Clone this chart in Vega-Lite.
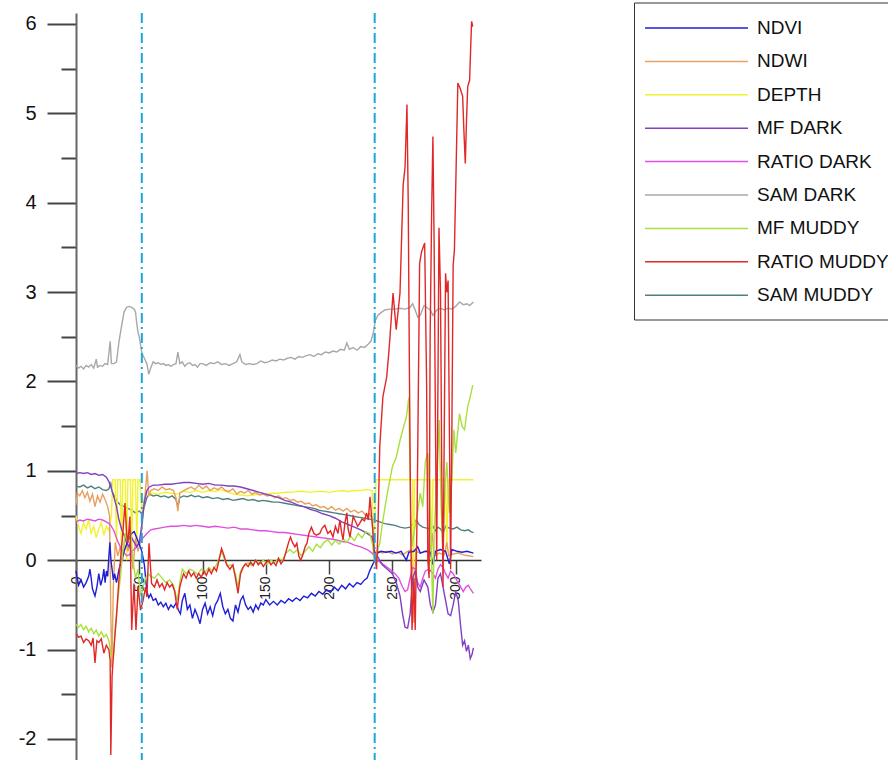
{
"$schema": "https://vega.github.io/schema/vega-lite/v6.json",
"width": 405, "height": 747,
"autosize": {"type": "none"},
"padding": {"left": 76, "top": 13, "right": 407, "bottom": 0},
"background": "white",
"config": {"view": {"stroke": null}, "font": "Liberation Sans"},
"datasets": {
"SAMD": [[0,2.18],[2,2.15],[4,2.17],[6,2.14],[8,2.18],[10,2.16],[12,2.19],[14,2.15],[16,2.25],[17,2.16],[19,2.18],[21,2.17],[23,2.2],[25,2.19],[27,2.45],[28,2.2],[30,2.2],[32,2.22],[34,2.45],[36,2.62],[38,2.78],[40,2.83],[42,2.84],[44,2.83],[46,2.81],[47,2.78],[48,2.65],[49,2.55],[50,2.5],[52,2.32],[54,2.26],[56,2.2],[57.5,2.08],[59,2.15],[61,2.22],[63,2.2],[65,2.21],[67,2.19],[69,2.2],[71,2.18],[73,2.19],[75,2.17],[77,2.19],[79,2.2],[80.5,2.33],[82,2.2],[84,2.22],[86,2.17],[88,2.2],[90,2.21],[92,2.18],[94,2.19],[96,2.16],[98,2.2],[100,2.2],[103,2.18],[106,2.21],[109,2.2],[112,2.22],[115,2.19],[118,2.2],[121,2.18],[124,2.2],[127,2.22],[129.5,2.3],[131,2.22],[134,2.19],[137,2.2],[140,2.19],[143,2.2],[146,2.23],[149,2.21],[152,2.22],[155,2.24],[158,2.23],[161,2.25],[164,2.24],[167,2.26],[170,2.27],[173,2.25],[176,2.28],[179,2.27],[182,2.29],[185,2.3],[188,2.28],[191,2.31],[194,2.3],[197,2.33],[200,2.32],[203,2.34],[206,2.33],[209,2.36],[212,2.35],[214,2.43],[216,2.36],[219,2.38],[222,2.35],[225,2.39],[228,2.38],[231,2.42],[233,2.45],[235,2.55],[236.5,2.68],[238.5,2.74],[241,2.77],[244,2.8],[248,2.81],[252,2.81],[256,2.82],[260,2.81],[264,2.83],[266,2.87],[268,2.8],[270,2.72],[272,2.74],[275,2.85],[278,2.82],[280,2.8],[282,2.74],[285,2.8],[288,2.82],[291,2.8],[294,2.82],[297,2.81],[300,2.84],[303,2.89],[306,2.86],[309,2.87],[311,2.85],[314,2.89]],
"SAMM": [[0,0.83],[3,0.82],[6,0.84],[9,0.81],[12,0.83],[15,0.8],[18,0.82],[21,0.79],[24,0.78],[26,0.8],[27.5,0.86],[29,0.75],[31,0.7],[33,0.65],[35,0.62],[38,0.6],[41,0.58],[44,0.56],[47,0.53],[50,0.55],[52,0.52],[54,0.6],[56,0.7],[58,0.74],[61,0.72],[64,0.73],[67,0.71],[70,0.72],[73,0.7],[76,0.72],[79,0.68],[80.5,0.6],[82,0.7],[85,0.72],[88,0.71],[91,0.73],[94,0.71],[97,0.72],[100,0.7],[104,0.71],[108,0.69],[112,0.7],[116,0.68],[120,0.69],[124,0.67],[128,0.68],[132,0.69],[136,0.67],[140,0.68],[144,0.66],[148,0.67],[152,0.66],[156,0.65],[160,0.65],[164,0.64],[168,0.63],[172,0.62],[176,0.61],[180,0.6],[184,0.59],[188,0.58],[192,0.56],[196,0.55],[200,0.54],[204,0.53],[208,0.52],[212,0.51],[216,0.5],[220,0.49],[224,0.48],[228,0.47],[232,0.46],[236,0.45],[240,0.43],[244,0.41],[248,0.4],[252,0.39],[256,0.37],[260,0.36],[264,0.37],[267,0.42],[269,0.45],[271,0.4],[274,0.37],[277,0.36],[280,0.35],[282,0.38],[284,0.33],[286,0.37],[288,0.35],[290,0.3],[292,0.38],[295,0.36],[298,0.35],[301,0.37],[304,0.34],[307,0.33],[310,0.34],[312,0.32],[314,0.31]],
"DEPTH": [[0,0.5],[2,0.38],[4,0.3],[6,0.42],[8,0.35],[10,0.45],[12,0.3],[14,0.38],[16,0.25],[18,0.35],[20,0.42],[22,0.28],[24,0.38],[26,0.33],[28,0.5],[29,0.9],[31,0.9],[32,0.2],[33,0.9],[35,0.9],[36,0.05],[37,0.9],[39,0.9],[40,0.0],[41,0.9],[43,0.9],[44,0.1],[45,0.9],[47,0.9],[48,0.15],[49,0.9],[50.5,0.9],[52,0.55],[54,0.7],[56,0.74],[60,0.75],[65,0.74],[70,0.76],[75,0.75],[80,0.74],[85,0.77],[90,0.76],[95,0.78],[100,0.76],[105,0.78],[110,0.77],[115,0.79],[120,0.76],[125,0.74],[130,0.73],[135,0.72],[140,0.73],[145,0.74],[150,0.74],[155,0.75],[160,0.75],[165,0.76],[170,0.76],[175,0.77],[180,0.77],[185,0.76],[190,0.77],[195,0.77],[200,0.76],[205,0.77],[210,0.78],[215,0.77],[220,0.78],[225,0.78],[230,0.79],[234,0.78],[235.5,0.0],[237,0.9],[240,0.9],[266,0.9],[266.5,-0.6],[267.5,0.9],[280,0.9],[281,-0.1],[282,0.9],[292,0.9],[293,0.1],[294,0.9],[314,0.9]],
"NDWI": [[0,0.62],[1,0.75],[3,0.72],[5,0.78],[7,0.7],[9,0.76],[11,0.66],[13,0.74],[15,0.6],[17,0.72],[19,0.65],[21,0.74],[23,0.68],[25,0.6],[26.5,0.5],[27.5,-0.6],[28.3,-1.2],[29.5,-0.3],[31,0.2],[33,0.05],[35,0.15],[37,0.0],[39,0.3],[41,0.1],[43,0.2],[45,-0.1],[47,0.25],[49,0.1],[51,0.2],[53,0.5],[55,0.8],[56.2,1.0],[57.5,0.72],[59,0.78],[62,0.8],[65,0.78],[68,0.82],[71,0.79],[74,0.8],[77,0.78],[79,0.7],[80.5,0.55],[82,0.75],[85,0.78],[88,0.8],[91,0.82],[94,0.79],[97,0.84],[100,0.8],[103,0.83],[106,0.78],[109,0.81],[112,0.79],[115,0.82],[118,0.78],[121,0.77],[124,0.8],[127,0.74],[130,0.77],[133,0.75],[136,0.78],[139,0.74],[142,0.76],[145,0.73],[148,0.74],[151,0.72],[154,0.73],[157,0.7],[160,0.72],[163,0.69],[166,0.7],[169,0.67],[172,0.68],[175,0.65],[178,0.66],[181,0.63],[184,0.64],[187,0.61],[190,0.62],[193,0.59],[196,0.6],[199,0.57],[202,0.6],[205,0.56],[208,0.58],[211,0.55],[214,0.58],[217,0.54],[220,0.56],[223,0.53],[226,0.55],[229,0.5],[232,0.52],[234,0.45],[235.5,0.1],[237,0.0],[239,0.1],[242,0.08],[246,0.1],[250,0.07],[254,0.09],[258,0.06],[262,0.1],[265,0.12],[267,-0.7],[268.5,0.1],[272,0.08],[276,0.1],[280,0.12],[281.5,0.3],[283,0.05],[287,0.08],[291,0.06],[293,0.2],[294.5,0.05],[298,0.07],[302,0.08],[306,0.06],[310,0.05],[314,0.04]],
"RATD": [[0,0.43],[3,0.45],[6,0.44],[9,0.46],[12,0.45],[15,0.44],[18,0.46],[21,0.45],[24,0.43],[27,0.4],[30,0.33],[32,0.25],[34,0.18],[36,0.12],[38,0.08],[40,0.05],[42,0.06],[44,0.1],[46,0.12],[48,0.15],[50,0.2],[53,0.25],[56,0.3],[59,0.34],[62,0.35],[66,0.36],[70,0.37],[75,0.38],[80,0.38],[85,0.39],[90,0.38],[95,0.39],[100,0.38],[105,0.37],[110,0.38],[115,0.37],[120,0.36],[125,0.37],[130,0.35],[135,0.35],[140,0.34],[145,0.33],[150,0.33],[155,0.32],[160,0.31],[165,0.31],[170,0.3],[175,0.29],[180,0.28],[185,0.27],[190,0.26],[195,0.25],[200,0.24],[205,0.23],[210,0.21],[215,0.2],[220,0.17],[225,0.15],[230,0.12],[234,0.08],[236,0.04],[238,0.0],[241,-0.03],[244,-0.06],[248,-0.1],[252,-0.15],[255,-0.2],[258,-0.3],[260,-0.35],[262,-0.33],[264,-0.2],[266,-0.08],[268,-0.1],[270,-0.25],[272,-0.3],[274,-0.2],[276,-0.12],[279,-0.1],[282,-0.15],[284,-0.2],[286,-0.1],[288,-0.05],[290,-0.08],[292,-0.15],[294,-0.2],[296,-0.12],[298,-0.15],[300,-0.2],[302,-0.25],[304,-0.3],[306,-0.35],[308,-0.3],[310,-0.28],[312,-0.33],[314,-0.37]],
"MFD": [[0,0.97],[3,0.98],[6,0.97],[9,0.98],[12,0.96],[15,0.97],[18,0.95],[21,0.96],[24,0.93],[26,0.88],[28,0.8],[30,0.7],[32,0.6],[34,0.45],[36,0.35],[38,0.28],[40,0.2],[42,0.15],[44,0.25],[46,0.2],[48,0.15],[50,0.2],[52,0.4],[54,0.65],[56,0.78],[58,0.82],[61,0.84],[65,0.84],[70,0.85],[75,0.85],[80,0.86],[85,0.87],[90,0.87],[95,0.86],[100,0.85],[105,0.86],[110,0.84],[115,0.84],[120,0.83],[125,0.83],[130,0.82],[135,0.8],[140,0.78],[145,0.76],[150,0.74],[155,0.72],[160,0.7],[165,0.67],[170,0.65],[175,0.62],[180,0.6],[185,0.57],[190,0.55],[195,0.52],[200,0.5],[205,0.47],[210,0.43],[215,0.4],[220,0.37],[225,0.34],[230,0.3],[234,0.26],[236,0.1],[238,0.05],[242,-0.05],[246,-0.1],[250,-0.15],[253,-0.25],[256,-0.4],[258,-0.6],[260,-0.75],[262,-0.76],[264,-0.6],[266,-0.2],[268,-0.12],[270,-0.3],[272,-0.35],[275,-0.22],[278,-0.3],[280,-0.5],[282,-0.58],[284,-0.5],[286,-0.2],[288,-0.15],[290,-0.3],[292,-0.45],[294,-0.6],[296,-0.62],[298,-0.5],[300,-0.35],[302,-0.45],[304,-0.75],[305.5,-0.95],[307,-0.9],[308.5,-1.02],[310,-0.95],[311.5,-1.1],[313,-1.05],[314,-0.98]],
"NDVI": [[0,-0.12],[1,-0.2],[2,-0.28],[4,-0.22],[6,-0.3],[8,-0.25],[10,-0.18],[11,-0.1],[12,-0.2],[13,-0.32],[15,-0.4],[16.5,-0.3],[18,-0.15],[19.5,-0.28],[21,-0.2],[22,-0.1],[23,-0.25],[24,-0.12],[25,-0.18],[26,0.05],[26.8,0.2],[27.6,0.0],[28.5,-0.1],[29.5,-0.22],[30.5,-0.15],[32,-0.25],[34,-0.1],[36,0.0],[38,0.1],[40,0.18],[42,0.25],[44,0.3],[46,0.32],[48,0.25],[50,0.18],[52,0.1],[54,-0.05],[56,-0.35],[57.5,-0.42],[59,-0.38],[61,-0.45],[63,-0.43],[65,-0.5],[67,-0.47],[69,-0.52],[71,-0.48],[73,-0.55],[75,-0.5],[77,-0.53],[79,-0.48],[81,-0.56],[82.5,-0.6],[84,-0.45],[86,-0.37],[88,-0.55],[90,-0.5],[92,-0.65],[94,-0.55],[96,-0.62],[98,-0.71],[100,-0.55],[102,-0.48],[104,-0.6],[106,-0.52],[108,-0.62],[110,-0.5],[112,-0.45],[114,-0.37],[116,-0.52],[118,-0.6],[120,-0.55],[122,-0.65],[124,-0.68],[126,-0.5],[128,-0.58],[130,-0.45],[132,-0.4],[134,-0.5],[136,-0.55],[138,-0.52],[140,-0.58],[142,-0.5],[144,-0.55],[146,-0.48],[148,-0.5],[150,-0.44],[153,-0.5],[156,-0.46],[159,-0.5],[162,-0.45],[165,-0.48],[168,-0.43],[171,-0.46],[174,-0.42],[177,-0.45],[180,-0.4],[183,-0.42],[186,-0.37],[189,-0.4],[192,-0.35],[195,-0.38],[198,-0.33],[201,-0.36],[204,-0.3],[207,-0.34],[210,-0.28],[213,-0.32],[216,-0.26],[219,-0.3],[222,-0.25],[225,-0.27],[228,-0.22],[230,-0.2],[232,-0.12],[234,-0.06],[236,0.0],[238,0.08],[241,0.1],[245,0.09],[249,0.1],[253,0.08],[257,0.1],[261,0.0],[263,0.09],[267,0.1],[270,0.15],[272,0.08],[276,0.1],[280,0.09],[282,-0.05],[284,0.1],[288,0.12],[292,0.1],[295,-0.04],[297,0.12],[301,0.1],[305,0.09],[309,0.1],[314,0.08]],
"MFM": [[0,-0.72],[2,-0.75],[4,-0.72],[6,-0.78],[8,-0.74],[10,-0.8],[12,-0.76],[14,-0.82],[16,-0.78],[18,-0.85],[20,-0.8],[22,-0.86],[24,-0.83],[26,-0.9],[28,-1.08],[29.5,-1.1],[31,-0.75],[33,-0.45],[35,-0.2],[37,0.1],[39,0.3],[41,0.2],[43,0.35],[45,0.0],[47,-0.2],[49,-0.1],[51,-0.4],[53,-0.3],[55,-0.2],[57,-0.15],[59,-0.18],[62,-0.2],[65,-0.15],[68,-0.2],[71,-0.25],[74,-0.22],[77,-0.28],[80,-0.45],[82,-0.25],[84,-0.1],[87,-0.15],[90,-0.1],[93,-0.12],[96,-0.16],[99,-0.1],[102,-0.13],[105,-0.08],[108,-0.12],[111,-0.05],[113,0.02],[115,0.1],[117,0.02],[120,-0.06],[123,-0.05],[126,-0.15],[128,-0.3],[130,-0.12],[133,-0.05],[136,-0.03],[139,-0.06],[142,0.0],[145,-0.04],[148,0.0],[151,-0.05],[154,0.0],[157,-0.03],[160,0.02],[163,0.0],[166,0.08],[169,0.12],[172,0.08],[175,0.12],[178,0.05],[181,0.1],[184,0.15],[187,0.1],[190,0.18],[193,0.14],[196,0.2],[199,0.23],[202,0.17],[205,0.22],[208,0.18],[211,0.24],[214,0.2],[217,0.27],[220,0.22],[223,0.3],[226,0.25],[229,0.32],[232,0.3],[234,0.2],[236,0.0],[238,0.1],[240,0.19],[242,0.4],[245,0.67],[248,0.9],[250,1.05],[253,1.15],[256,1.34],[259,1.5],[261,1.6],[263,1.82],[264.5,0.5],[265.5,0.15],[267,0.3],[270,0.55],[272,0.75],[274,0.6],[276,1.1],[278,1.2],[280,0.5],[282,-0.6],[283,0.3],[285,0.9],[287,1.57],[288.5,0.6],[290,0.08],[291.5,0.8],[293,1.1],[295,0.53],[297,0.9],[298.5,1.46],[300,1.2],[303,1.64],[305,1.5],[307,1.46],[309.5,1.72],[311,1.8],[313.5,1.96]],
"RATM": [[0,-0.82],[2,-0.86],[4,-0.85],[6,-0.92],[8,-0.88],[10,-0.9],[12,-0.95],[13.5,-0.87],[15,-1.15],[16.5,-0.9],[18,-0.92],[20,-0.88],[22,-1.04],[24,-0.95],[26,-1.0],[27,-1.12],[27.5,-2.18],[28.5,-1.3],[29.5,-1.08],[31,-0.8],[32,-0.63],[33.5,-0.3],[34.7,-0.07],[36,0.15],[37,0.3],[38.7,0.64],[40,0.3],[41,0.19],[42.6,0.49],[44,-0.78],[45.8,-0.26],[47.4,-0.78],[49,-0.3],[51,-0.56],[53,-0.45],[55,-0.3],[56,-0.41],[57.7,0.19],[59.7,-0.26],[62,-0.3],[64,-0.22],[66,-0.3],[68,-0.26],[70,-0.33],[72,-0.25],[74,-0.3],[76,-0.27],[78,-0.35],[80,-0.55],[82,-0.3],[83.5,-0.22],[85,-0.15],[87,-0.2],[89,-0.12],[91,-0.18],[93,-0.14],[95,-0.2],[97,-0.15],[99,-0.19],[101,-0.12],[103,-0.17],[105,-0.1],[107,-0.15],[109,-0.08],[111,-0.12],[113,0.0],[115,0.13],[117,0.05],[119,-0.05],[121.6,-0.1],[124,-0.05],[126,-0.2],[128,-0.37],[130,-0.15],[132,-0.08],[134,-0.04],[136,-0.07],[138,-0.02],[140,-0.06],[142,0.0],[144,-0.05],[146,-0.02],[148,-0.07],[150,-0.03],[152,0.0],[154,-0.05],[156,-0.02],[158,-0.06],[160,0.02],[162,-0.04],[164,0.0],[166,0.1],[168,0.2],[169.5,0.26],[171,0.2],[173,0.15],[174.5,0.19],[176,0.05],[177.5,0.0],[179,0.05],[181,0.15],[182.5,0.19],[184,0.3],[186,0.37],[188,0.3],[190,0.28],[192.6,0.3],[194.5,0.36],[196.6,0.39],[199,0.3],[201,0.33],[203,0.26],[205,0.38],[207,0.3],[208.5,0.45],[210,0.3],[211,0.23],[212.5,0.42],[214,0.53],[215,0.35],[216.5,0.26],[218,0.4],[219,0.49],[221,0.43],[222.5,0.38],[224,0.41],[226,0.46],[228,0.44],[229.5,0.53],[231,0.45],[232.3,0.71],[233.5,0.5],[234.5,0.34],[235.5,0.1],[236.5,0.0],[237.5,-0.1],[238.5,0.3],[240,1.27],[242.5,1.83],[245.5,2.05],[247,2.3],[248,2.48],[250.5,2.99],[253,2.58],[256,2.99],[258.5,4.2],[260,4.4],[261.5,5.1],[262.5,4.0],[263.5,2.0],[264.5,0.3],[265.5,-0.78],[267,-0.2],[268,-0.78],[269.5,0.5],[271.5,3.32],[273,3.45],[275.5,3.55],[277,2.0],[278,0.0],[279,-0.2],[279.8,2.46],[281,3.9],[282,4.74],[283,3.5],[284,1.5],[285,0.0],[286,2.0],[286.8,3.72],[288,3.0],[289,1.0],[290,-0.3],[291,1.5],[292,3.21],[293,3.0],[294,3.13],[295,1.5],[296,-0.1],[297,1.5],[298,3.3],[299,3.47],[300.5,4.5],[301.7,5.34],[303.5,5.28],[305.5,5.19],[306.5,4.8],[307.6,4.44],[308.5,4.9],[309.5,5.3],[311,5.37],[312,5.8],[312.6,6.03],[313.5,5.97]]
},
"layer": [
 {"data": {"name": "SAMD"}, "transform": [{"calculate": "'SAM DARK'", "as": "s"}, {"calculate": "datum[0]", "as": "x"}, {"calculate": "datum[1]", "as": "y"}],
  "mark": {"type": "line", "strokeWidth": 1.4},
  "encoding": {
   "x": {"field": "x", "type": "quantitative", "scale": {"domain": [0, 320], "nice": false, "zero": false},
     "axis": {"title": null, "values": [0,25,50,75,100,125,150,175,200,225,250,275,300], "labelExpr": "datum.value % 50 === 0 ? '' + datum.value : ''", "labelAngle": -90, "labelFontSize": 14, "labelColor": "#222", "tickSize": 14, "tickColor": "#444", "tickWidth": 1.5, "domainColor": "#333", "domainWidth": 1.5, "labelPadding": 2, "offset": -200, "grid": false, "labelOverlap": false, "labelFlush": false}},
   "y": {"field": "y", "type": "quantitative", "scale": {"domain": [-2.235, 6.123], "nice": false, "zero": false},
     "axis": {"title": null, "values": [-2,-1.5,-1,-0.5,0,0.5,1,1.5,2,2.5,3,3.5,4,4.5,5,5.5,6], "labelExpr": "datum.value % 1 === 0 ? '' + datum.value : ''", "tickSize": {"condition": {"test": "datum.value % 1 === 0", "value": 29}, "value": 15}, "labelFontSize": 20, "labelColor": "#111", "labelPadding": 11, "domainColor": "#666", "domainWidth": 2, "tickColor": "#444", "tickWidth": 2, "grid": false, "labelOverlap": false}},
   "color": {"field": "s", "type": "nominal",
     "scale": {"domain": ["NDVI","NDWI","DEPTH","MF DARK","RATIO DARK","SAM DARK","MF MUDDY","RATIO MUDDY","SAM MUDDY"], "range": ["#1f1fd6","#e8a060","#f2f230","#8040c0","#e050e0","#a8a8a8","#a8e040","#e02828","#4f8080"]},
     "legend": {"title": null, "orient": "none", "legendX": 558, "legendY": -10.5, "symbolType": "M-5,0H5", "symbolSize": 424, "symbolStrokeWidth": 1.5, "symbolOffset": 37, "labelOffset": 49, "labelFontSize": 19, "labelFont": "Liberation Sans", "labelColor": "#111", "rowPadding": 11.4, "padding": 14, "strokeColor": "#333", "fillColor": "white", "labelLimit": 300}}
  }},
 {"data": {"name": "SAMM"}, "transform": [{"calculate": "'SAM MUDDY'", "as": "s"}, {"calculate": "datum[0]", "as": "x"}, {"calculate": "datum[1]", "as": "y"}], "mark": {"type": "line", "strokeWidth": 1.4}, "encoding": {"x": {"field": "x", "type": "quantitative"}, "y": {"field": "y", "type": "quantitative"}, "color": {"field": "s", "type": "nominal"}}},
 {"data": {"name": "DEPTH"}, "transform": [{"calculate": "'DEPTH'", "as": "s"}, {"calculate": "datum[0]", "as": "x"}, {"calculate": "datum[1]", "as": "y"}], "mark": {"type": "line", "strokeWidth": 1.4}, "encoding": {"x": {"field": "x", "type": "quantitative"}, "y": {"field": "y", "type": "quantitative"}, "color": {"field": "s", "type": "nominal"}}},
 {"data": {"name": "NDWI"}, "transform": [{"calculate": "'NDWI'", "as": "s"}, {"calculate": "datum[0]", "as": "x"}, {"calculate": "datum[1]", "as": "y"}], "mark": {"type": "line", "strokeWidth": 1.4}, "encoding": {"x": {"field": "x", "type": "quantitative"}, "y": {"field": "y", "type": "quantitative"}, "color": {"field": "s", "type": "nominal"}}},
 {"data": {"name": "RATD"}, "transform": [{"calculate": "'RATIO DARK'", "as": "s"}, {"calculate": "datum[0]", "as": "x"}, {"calculate": "datum[1]", "as": "y"}], "mark": {"type": "line", "strokeWidth": 1.4}, "encoding": {"x": {"field": "x", "type": "quantitative"}, "y": {"field": "y", "type": "quantitative"}, "color": {"field": "s", "type": "nominal"}}},
 {"data": {"name": "MFD"}, "transform": [{"calculate": "'MF DARK'", "as": "s"}, {"calculate": "datum[0]", "as": "x"}, {"calculate": "datum[1]", "as": "y"}], "mark": {"type": "line", "strokeWidth": 1.4}, "encoding": {"x": {"field": "x", "type": "quantitative"}, "y": {"field": "y", "type": "quantitative"}, "color": {"field": "s", "type": "nominal"}}},
 {"data": {"name": "NDVI"}, "transform": [{"calculate": "'NDVI'", "as": "s"}, {"calculate": "datum[0]", "as": "x"}, {"calculate": "datum[1]", "as": "y"}], "mark": {"type": "line", "strokeWidth": 1.4}, "encoding": {"x": {"field": "x", "type": "quantitative"}, "y": {"field": "y", "type": "quantitative"}, "color": {"field": "s", "type": "nominal"}}},
 {"data": {"name": "MFM"}, "transform": [{"calculate": "'MF MUDDY'", "as": "s"}, {"calculate": "datum[0]", "as": "x"}, {"calculate": "datum[1]", "as": "y"}], "mark": {"type": "line", "strokeWidth": 1.4}, "encoding": {"x": {"field": "x", "type": "quantitative"}, "y": {"field": "y", "type": "quantitative"}, "color": {"field": "s", "type": "nominal"}}},
 {"data": {"name": "RATM"}, "transform": [{"calculate": "'RATIO MUDDY'", "as": "s"}, {"calculate": "datum[0]", "as": "x"}, {"calculate": "datum[1]", "as": "y"}], "mark": {"type": "line", "strokeWidth": 1.4}, "encoding": {"x": {"field": "x", "type": "quantitative"}, "y": {"field": "y", "type": "quantitative"}, "color": {"field": "s", "type": "nominal"}}},
 {"data": {"values": [{"x": 52}, {"x": 236}]}, "mark": {"type": "rule", "color": "#1ea5dc", "strokeWidth": 2, "strokeDash": [10, 4, 2, 4]}, "encoding": {"x": {"field": "x", "type": "quantitative"}}}
]
}
